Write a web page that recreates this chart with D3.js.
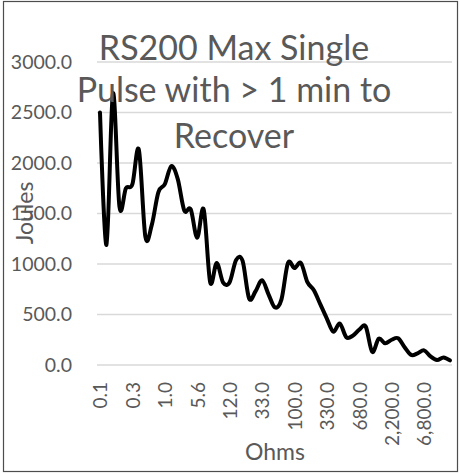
<!DOCTYPE html>
<html>
<head>
<meta charset="utf-8">
<script src="https://cdn.jsdelivr.net/npm/d3@7"></script>
<style>
  html, body { margin: 0; padding: 0; background: #fff; }
  svg { display: block; }
  text { font-family: Lato, "Open Sans", sans-serif; fill: #595959; }
</style>
</head>
<body>
<svg id="chart" width="460" height="474"></svg>
<script>
// ---- data ----
const titleLines = ["RS200 Max Single", "Pulse with > 1 min to", "Recover"];
const xTitle = "Ohms";
const yTitle = "Joules";
const ohms = [0.1, 0.12, 0.15, 0.2, 0.22, 0.3, 0.33, 0.47, 0.5, 0.68,
              1.0, 1.5, 2.2, 3.3, 4.7, 5.6, 6.8, 8.2, 10, 11,
              12, 15, 18, 22, 27, 33, 39, 47, 56, 82,
              100, 120, 150, 220, 270, 330, 390, 470, 510, 560,
              680, 820, 1000, 1200, 1500, 2200, 2700, 3300, 4700, 5600,
              6800, 8200, 10000, 12000, 15000];
const joules = [2500, 1190, 2690, 1570, 1750, 1790, 2130, 1270, 1390, 1710,
                1790, 1970, 1840, 1530, 1540, 1260, 1540, 820, 1010, 815,
                820, 1040, 1030, 660, 730, 840, 700, 570, 650, 1010,
                960, 1010, 820, 740, 600, 460, 330, 410, 275, 290,
                350, 380, 130, 260, 215, 250, 265, 175, 100, 115,
                145, 85, 50, 75, 45];
const yTicks = [0, 500, 1000, 1500, 2000, 2500, 3000];
const labelEvery = 5;

// ---- drawing ----
const svg = d3.select("#chart");
const plot = { left: 97, right: 452, top: 62, bottom: 365 };

svg.append("rect")
  .attr("x", 3.5).attr("y", 1.5).attr("width", 454).attr("height", 470)
  .attr("fill", "#fff").attr("stroke", "#4d4d4d").attr("stroke-width", 1.2);

const idx = d3.range(ohms.length);
const x = d3.scalePoint().domain(idx).range([100, 450]);
const y = d3.scaleLinear().domain([0, 3000]).range([plot.bottom, plot.top]);

// gridlines
svg.append("g").selectAll("line").data(yTicks).join("line")
  .attr("x1", plot.left).attr("x2", plot.right)
  .attr("y1", d => y(d)).attr("y2", d => y(d))
  .attr("stroke", "#d9d9d9").attr("stroke-width", 1.3);

// y axis labels
const yAxis = d3.axisLeft(y).tickValues(yTicks).tickFormat(d3.format(".1f")).tickSize(0).tickPadding(25);
const gy = svg.append("g").attr("transform", `translate(${plot.left},0)`).call(yAxis);
gy.select(".domain").remove();
gy.selectAll("text").style("font-family", "Lato, sans-serif").style("font-size", "19.5px").attr("fill", "#595959");

// x axis labels
const xAxis = d3.axisBottom(x)
  .tickValues(idx.filter(i => i % labelEvery === 0))
  .tickFormat(i => d3.format(",.1f")(ohms[i]))
  .tickSize(0);
const gx = svg.append("g").attr("transform", `translate(0,${plot.bottom})`).call(xAxis);
gx.select(".domain").remove();
gx.selectAll("text")
  .attr("transform", "rotate(-90)")
  .attr("text-anchor", "end")
  .attr("x", -17).attr("y", 0).attr("dy", "0.36em")
  .style("font-family", "Lato, sans-serif").style("font-size", "19px").attr("fill", "#595959");

// line
const line = d3.line()
  .x((d, i) => x(i))
  .y(d => y(d))
  .curve(d3.curveCardinal.tension(0));
svg.append("path").datum(joules)
  .attr("d", line)
  .attr("fill", "none").attr("stroke", "#000").attr("stroke-width", 4)
  .attr("stroke-linejoin", "round").attr("stroke-linecap", "round");

// title
const tBase = [60, 102, 148];
svg.append("g").selectAll("text").data(titleLines).join("text")
  .attr("x", 234).attr("y", (d, i) => tBase[i])
  .attr("text-anchor", "middle")
  .style("font-size", "34px")
  .text(d => d);

// axis titles
svg.append("text").attr("x", 275).attr("y", 460).attr("text-anchor", "middle")
  .style("font-size", "23px").text(xTitle);
svg.append("text").attr("transform", "rotate(-90)")
  .attr("x", -213).attr("y", 25).attr("dy", "0.35em").attr("text-anchor", "middle")
  .style("font-size", "23px").text(yTitle);
</script>
</body>
</html>
